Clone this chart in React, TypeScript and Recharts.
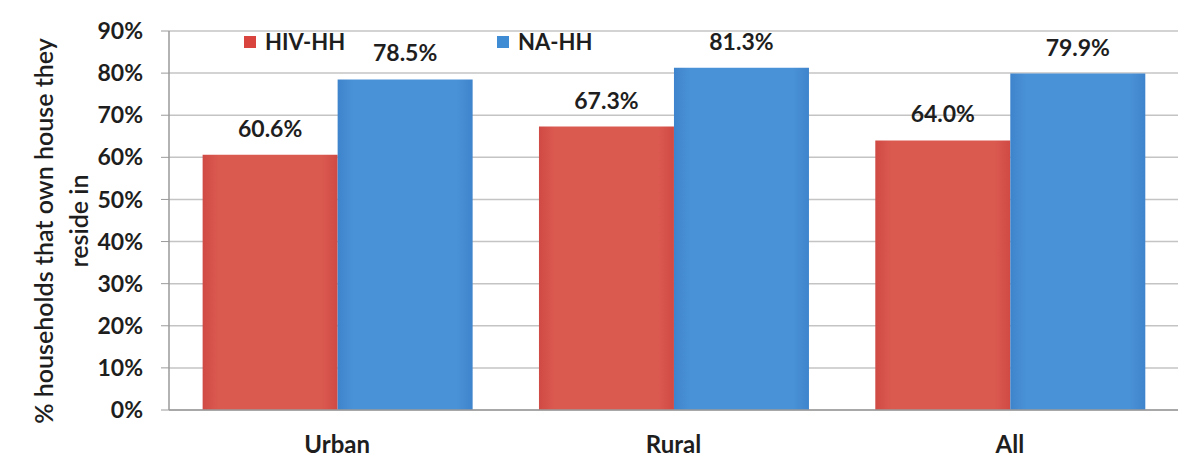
import { BarChart, Bar, XAxis, YAxis, CartesianGrid, LabelList } from 'recharts'

const categories = ['Urban', 'Rural', 'All']
const hivHH = [60.6, 67.3, 64.0]
const naHH = [78.5, 81.3, 79.9]
const yTicks = [0, 10, 20, 30, 40, 50, 60, 70, 80, 90]

const data = categories.map((name, i) => ({ name, hiv: hivHH[i], na: naHH[i] }))

const FONT = 'Lato, "Open Sans", sans-serif'
const TEXT = '#1e1e1e'

function YTitle() {
  const cy = 231
  return (
    <g fontFamily={FONT} fontSize={25} fill={TEXT} fontWeight={600}>
      <text x={43} y={cy} textAnchor="middle" dominantBaseline="central" transform={`rotate(-90 43 ${cy})`}>
        % households that own house they
      </text>
      <text x={78} y={cy - 10} textAnchor="middle" dominantBaseline="central" transform={`rotate(-90 78 ${cy - 10})`}>
        reside in
      </text>
    </g>
  )
}

const legendItems = [
  { label: 'HIV-HH', color: '#d9443f', left: 244 },
  { label: 'NA-HH', color: '#3f8bd4', left: 497 },
]

const labelStyle = { fontFamily: FONT, fontSize: 23, fontWeight: 700, fill: TEXT }

export default function App() {
  return (
    <div style={{ position: 'absolute', left: 0, top: 0, background: '#fff' }}>
      <BarChart
        width={1202}
        height={463}
        data={data}
        margin={{ top: 31, right: 24, bottom: 23, left: 0 }}
        barCategoryGap="10%"
        barGap={0}
      >
        <defs>
          <linearGradient id="redFill" x1="0" y1="0" x2="1" y2="0">
            <stop offset="0%" stopColor="#cf4a44" />
            <stop offset="12%" stopColor="#db5a50" />
            <stop offset="88%" stopColor="#db5a50" />
            <stop offset="100%" stopColor="#cf4a44" />
          </linearGradient>
          <linearGradient id="blueFill" x1="0" y1="0" x2="1" y2="0">
            <stop offset="0%" stopColor="#3e84cc" />
            <stop offset="12%" stopColor="#4a92d8" />
            <stop offset="88%" stopColor="#4a92d8" />
            <stop offset="100%" stopColor="#3e84cc" />
          </linearGradient>
        </defs>
        <CartesianGrid vertical={false} stroke="#c4c4c4" strokeWidth={1.5} />
        <XAxis
          xAxisId="num"
          type="number"
          domain={[0, 3]}
          ticks={[0, 1, 2, 3]}
          height={1}
          tick={false}
          tickSize={5}
          tickLine={{ stroke: '#9a9a9a' }}
          axisLine={false}
        />
        <XAxis
          xAxisId="cat"
          dataKey="name"
          height={29}
          tickLine={false}
          axisLine={{ stroke: '#9a9a9a', strokeWidth: 1.5 }}
          tickMargin={20}
          tick={{ fontFamily: FONT, fontSize: 24, fontWeight: 700, fill: TEXT }}
        />
        <YAxis
          width={169}
          domain={[0, 90]}
          ticks={yTicks}
          tickFormatter={(v: number) => `${v}%`}
          tickSize={8}
          tickMargin={18}
          tickLine={{ stroke: '#9a9a9a' }}
          axisLine={{ stroke: '#9a9a9a', strokeWidth: 1.5 }}
          tick={{ fontFamily: FONT, fontSize: 23, fontWeight: 700, fill: TEXT }}
          label={{ content: () => <YTitle /> }}
        />
        <Bar xAxisId="cat" dataKey="hiv" name="HIV-HH" fill="url(#redFill)" isAnimationActive={false}>
          <LabelList
            dataKey="hiv"
            position="top"
            offset={18}
            formatter={(v: number) => `${v.toFixed(1)}%`}
            style={labelStyle}
          />
        </Bar>
        <Bar xAxisId="cat" dataKey="na" name="NA-HH" fill="url(#blueFill)" isAnimationActive={false}>
          <LabelList
            dataKey="na"
            position="top"
            offset={18}
            formatter={(v: number) => `${v.toFixed(1)}%`}
            style={labelStyle}
          />
        </Bar>
      </BarChart>
      {legendItems.map(it => (
        <div
          key={it.label}
          style={{
            position: 'absolute',
            left: it.left,
            top: 28,
            display: 'flex',
            alignItems: 'center',
            fontFamily: FONT,
            fontWeight: 700,
            fontSize: 22,
            color: TEXT,
          }}
        >
          <span style={{ width: 12, height: 12, background: it.color, marginRight: 9, display: 'inline-block' }} />
          <span>{it.label}</span>
        </div>
      ))}
    </div>
  )
}
